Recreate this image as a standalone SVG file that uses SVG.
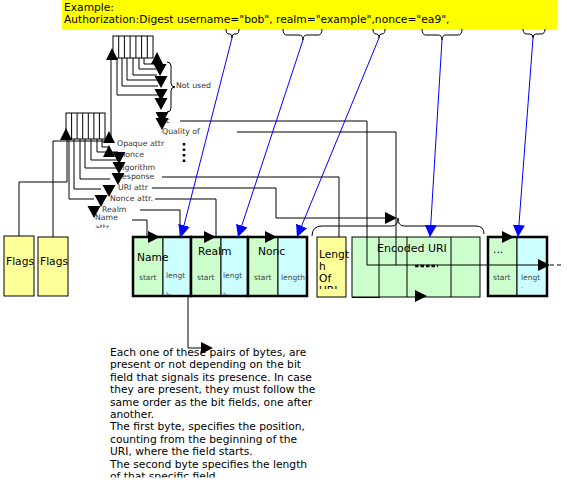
<svg xmlns="http://www.w3.org/2000/svg" xmlns:xlink="http://www.w3.org/1999/xlink" width="567" height="490" viewBox="0 0 567 490">
<style>
text{font-family:"DejaVu Sans",Verdana,sans-serif;fill:#000}
.big{font-size:10.7px}
.lbl{font-size:7.8px;fill:#333}
.sm{font-size:7.5px;fill:#444}
.ln{fill:none;stroke:#000;stroke-width:1}
.bl{fill:none;stroke:#0000ff;stroke-width:1}
.thick{fill:none;stroke:#000;stroke-width:2.5}
.g{fill:#ccffcc;stroke:#000;stroke-width:1}
.c{fill:#ccffff;stroke:#000;stroke-width:1}
.y{fill:#ffff99;stroke:#000;stroke-width:1}
.bits{fill:#fff;stroke:#000;stroke-width:1}
.tri{fill:#000}
</style>
<defs>
<marker id="ba" viewBox="0 0 12 12" refX="12" refY="6" markerWidth="12" markerHeight="12" markerUnits="userSpaceOnUse" orient="auto"><path d="M0,0 L12,6 L0,12 Z" fill="#0000ff"/></marker>
<path id="td" d="M-6.5,-6 L6.5,-6 L0,6 Z"/>
<path id="tu" d="M-6,6 L6,6 L0,-6 Z"/>
<path id="tr" d="M-6,-6 L6,0 L-6,6 Z"/>
<clipPath id="rowclip"><rect x="0" y="237" width="567" height="57.5"/></clipPath>
<clipPath id="uriclip"><rect x="0" y="237" width="567" height="52"/></clipPath>
<clipPath id="moreclip"><rect x="0" y="237" width="567" height="51"/></clipPath>
<clipPath id="attrclip"><rect x="0" y="200" width="200" height="28"/></clipPath>
<clipPath id="paraclip"><rect x="0" y="340" width="567" height="137.5"/></clipPath>
</defs>

<g id="example">
<rect x="62" y="0" width="495" height="30" fill="#ffff00"/>
<text class="big" x="64" y="10.5">Example:</text>
<text class="big" x="64" y="22.5">Authorization:Digest username="bob", realm="example",nonce="ea9",</text>
</g>

<g id="braces" class="ln">
<path d="M226,29 Q226,34 229,34 L230,34 Q232,34 232,38 Q232,34 234,34 L236,34 Q239,34 239,29"/>
<path d="M283,29 Q283,35 287,35 L299,35 Q303,35 303,40 Q303,35 307,35 L318,35 Q322,35 322,29"/>
<path d="M373,29 Q373,34 376,34 L377,34 Q379,34 379,38 Q379,34 381,34 L382,34 Q385,34 385,29"/>
<path d="M422,29 Q422,35 426,35 L438,35 Q442,35 442,40 Q442,35 446,35 L458,35 Q462,35 462,29"/>
<path d="M523,29 Q523,34 527,34 L530,34 Q533,34 533,38 Q533,34 536,34 L541,34 Q545,34 545,29"/>
</g>

<g id="bitfield-upper">
<rect class="bits" x="113" y="36" width="40" height="22"/>
<path class="ln" d="M118.7,36V58M124.4,36V58M130.1,36V58M135.9,36V58M141.6,36V58M147.3,36V58"/>
</g>

<g id="bitfield-lower">
<rect class="bits" x="66" y="113" width="39" height="26"/>
<path class="ln" d="M71.6,113V139M77.1,113V139M82.7,113V139M88.3,113V139M93.9,113V139M99.4,113V139"/>
</g>

<g id="flags1"><rect class="y" x="4" y="236" width="30" height="60"/><text class="big" x="6" y="265">Flags</text></g>
<g id="flags2"><rect class="y" x="38" y="237" width="30" height="59"/><text class="big" x="40" y="265">Flags</text></g>

<g id="labels">
<path class="ln" d="M167,62 Q171,62 171,66 V83 Q171,87 175,87 Q171,87 171,91 V108 Q171,112 167,112"/>
<text class="lbl" x="176" y="88">Not used</text>
<text class="lbl" x="161" y="123">nc</text>
<text class="lbl" x="162" y="134">Quality of</text>
<path d="M184,143V164" stroke="#000" stroke-width="2.5" stroke-dasharray="2.5,3"/>
<text class="lbl" x="117" y="146">Opaque attr</text>
<text class="lbl" x="116" y="157">cnonce</text>
<text class="lbl" x="117" y="170">Algorithm</text>
<text class="lbl" x="119" y="179">response</text>
<text class="lbl" x="118" y="190">URI attr</text>
<text class="lbl" x="110" y="201">Nonce attr.</text>
<text class="lbl" x="102" y="212">Realm</text>
<g clip-path="url(#attrclip)"><text class="lbl" x="95" y="220">Name</text><text class="lbl" x="95" y="229.5">attr</text></g>
</g>

<g id="record-name">
<rect class="g" x="133" y="237" width="30" height="59"/>
<rect class="c" x="163" y="237" width="28" height="59"/>
<text class="big" x="137" y="261">Name</text>
<g clip-path="url(#rowclip)"><text class="sm" x="139" y="280">start</text><text class="sm" x="166" y="278">lengt</text><text class="sm" x="166" y="297.5">h</text></g>
<rect class="thick" x="133" y="237" width="58" height="59"/>
</g>
<g id="record-realm">
<rect class="g" x="191" y="237" width="30" height="59"/>
<rect class="c" x="221" y="237" width="27" height="59"/>
<text class="big" x="198" y="255">Realm</text>
<g clip-path="url(#rowclip)"><text class="sm" x="197" y="280">start</text><text class="sm" x="223" y="278">lengt</text><text class="sm" x="223" y="297.5">h</text></g>
<rect class="thick" x="191" y="237" width="57" height="59"/>
</g>
<g id="record-nonce">
<rect class="g" x="248" y="237" width="30" height="59"/>
<rect class="c" x="278" y="237" width="29" height="59"/>
<text class="big" x="258" y="255">Nonc</text>
<text class="sm" x="254" y="280">start</text><text class="sm" x="281" y="280">length</text>
<rect class="thick" x="248" y="237" width="59" height="59"/>
</g>
<g id="length-of-uri">
<rect class="y" x="317" y="237" width="29" height="60"/>
<g clip-path="url(#uriclip)"><text class="big" x="319" y="258">Lengt</text><text class="big" x="319" y="270">h</text><text class="big" x="319" y="282">Of</text><text class="big" x="319" y="294">URI</text></g>
</g>
<g id="encoded-uri">
<rect class="g" x="352" y="237" width="128" height="60"/>
<path class="ln" d="M379,237V297M407,237V297M451,237V297"/>
<text class="big" x="377" y="252" style="font-size:11px">Encoded URI</text>
<path d="M415,266H438" stroke="#000" stroke-width="2.5" stroke-dasharray="3.5,2"/>
</g>
<g id="record-more">
<rect class="g" x="488" y="237" width="29" height="59"/>
<rect class="c" x="517" y="237" width="30" height="59"/>
<text class="big" x="493" y="253">...</text>
<g clip-path="url(#moreclip)"><text class="sm" x="493" y="280">start</text><text class="sm" x="521" y="280">lengt</text><text class="sm" x="521" y="293">h</text></g>
<rect class="thick" x="488" y="237" width="59" height="59"/>
</g>

<g id="note">
<g clip-path="url(#paraclip)">
<text class="big" x="110" y="356">Each one of these pairs of bytes, are</text>
<text class="big" x="110" y="368.4">present or not depending on the bit</text>
<text class="big" x="110" y="380.8">field that signals its presence. In case</text>
<text class="big" x="110" y="393.2">they are present, they must follow the</text>
<text class="big" x="110" y="405.6">same order as the bit fields, one after</text>
<text class="big" x="110" y="418">another.</text>
<text class="big" x="110" y="430.4">The first byte, specifies the position,</text>
<text class="big" x="110" y="442.8">counting from the beginning of the</text>
<text class="big" x="110" y="455.2">URI, where the field starts.</text>
<text class="big" x="110" y="467.6">The second byte specifies the length</text>
<text class="big" x="110" y="480">of that specific field.</text>
</g>
</g>

<g id="connectors">
<path class="ln" d="M19,236V182H67V140"/>
<use href="#tu" x="66" y="134" class="tri"/>
<path class="ln" d="M53,237V141H111V60"/>
<use href="#tu" x="112" y="54" class="tri"/>
<path class="ln" d="M144,58V64H155M139,58V69H156M133,58V75H157M127,58V80H158M122,58V86H158M117,58V95H158"/>
<use href="#tu" x="157" y="58" class="tri"/>
<use href="#td" x="160" y="70" class="tri"/>
<use href="#td" x="161" y="82" class="tri"/>
<use href="#td" x="161" y="95" class="tri"/>
<use href="#td" x="161" y="104" class="tri"/>
<use href="#td" x="162" y="118" class="tri"/>
<use href="#td" x="162" y="124" class="tri"/>
<path class="ln" d="M102,139V147H109M97,139V152H118M91,139V160H119M85,139V168H118M80,139V179H110M74,139V189H101M69,139V199H94"/>
<use href="#tu" x="109" y="137" class="tri"/>
<use href="#tu" x="109" y="151" class="tri"/>
<use href="#td" x="119" y="158" class="tri"/>
<use href="#td" x="119" y="168" class="tri"/>
<use href="#td" x="118" y="179" class="tri"/>
<use href="#td" x="109" y="191" class="tri"/>
<use href="#td" x="101" y="201" class="tri"/>
<use href="#td" x="94" y="212" class="tri"/>
<path class="ln" d="M180,121H367V265H538"/>
<use href="#tr" x="544" y="265" class="tri"/>
<path d="M550,265H564" stroke="#000" stroke-dasharray="4,3"/>
<path class="ln" d="M237,132H396V265"/>
<path class="ln" d="M162,177H339V237"/>
<path class="ln" d="M152,188H276V218H385"/>
<use href="#tr" x="391" y="218" class="tri"/>
<path class="ln" d="M312,236 Q312,226 322,226 L392,226 Q398,226 398,218 Q398,226 404,226 L476,226 Q484,226 484,234"/>
<path class="ln" d="M155,199H216V237"/>
<use href="#tr" x="210" y="237" class="tri"/>
<path class="ln" d="M140,210H180V237"/>
<path class="ln" d="M132,220H147V237"/>
<use href="#tr" x="154" y="237" class="tri"/>
<use href="#tr" x="271" y="237" class="tri"/>
<use href="#tr" x="508" y="237" class="tri"/>
<path class="ln" d="M352,297.5H380" stroke-width="1.5"/>
<use href="#tr" x="421" y="296" class="tri"/>
<path class="ln" d="M188,296V348H201"/>
<use href="#tr" x="207" y="348" class="tri"/>
<path class="bl" d="M232,38L181,237" marker-end="url(#ba)"/>
<path class="bl" d="M303,40L238,237" marker-end="url(#ba)"/>
<path class="bl" d="M379,38L297,237" marker-end="url(#ba)"/>
<path class="bl" d="M442,40L430,237" marker-end="url(#ba)"/>
<path class="bl" d="M533,38L518,237" marker-end="url(#ba)"/>
</g>
</svg>
